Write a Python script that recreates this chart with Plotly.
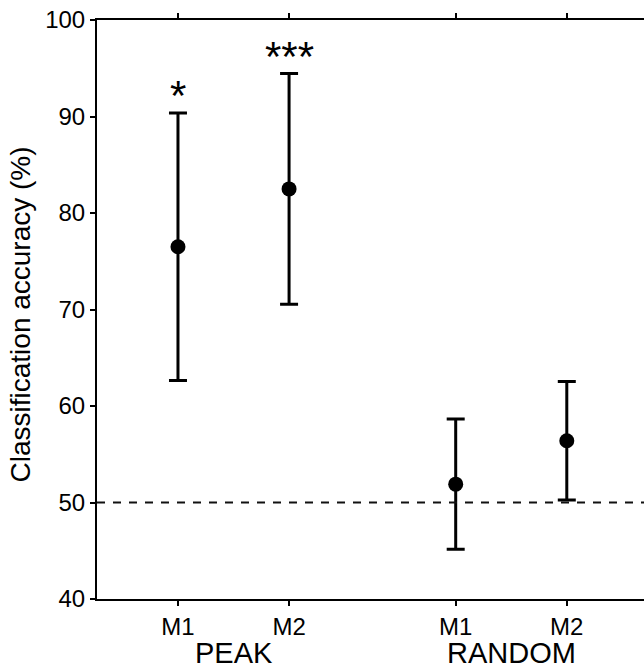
import plotly.graph_objects as go

# ---- data ----
groups = ["PEAK", "PEAK", "RANDOM", "RANDOM"]
methods = ["M1", "M2", "M1", "M2"]
accuracy = [76.5, 82.5, 51.9, 56.4]
error = [13.85, 11.95, 6.75, 6.15]
significance = ["*", "***", "", ""]
chance_level = 50
y_ticks = [40, 50, 60, 70, 80, 90, 100]
group_names = ["PEAK", "RANDOM"]

# category placement on the x axis (two groups with a gap)
x_pos = [1, 2, 3.5, 4.5]

FONT = "Liberation Sans, Arial, Helvetica, sans-serif"

fig = go.Figure()
fig.add_trace(go.Scatter(
    x=x_pos, y=accuracy, mode="markers",
    marker=dict(color="black", size=15),
    error_y=dict(type="data", array=error, visible=True,
                 color="black", thickness=3, width=9),
    cliponaxis=False, showlegend=False, hoverinfo="skip",
))

# chance level
fig.add_shape(type="line", xref="paper", x0=0, x1=1, yref="y",
              y0=chance_level, y1=chance_level,
              line=dict(color="#111111", width=2, dash="8px,8px"))

# significance stars
for xp, acc, err, s in zip(x_pos, accuracy, error, significance):
    if s:
        fig.add_annotation(x=xp, y=acc + err, text=s, showarrow=False,
                           yanchor="bottom", yshift=-8,
                           font=dict(family=FONT, size=42, color="black"))

# group labels
for g in group_names:
    xs = [xp for xp, gg in zip(x_pos, groups) if gg == g]
    fig.add_annotation(x=sum(xs) / len(xs), xref="x", y=-0.094, yref="paper",
                       text=g, showarrow=False, yanchor="middle",
                       font=dict(family=FONT, size=29, color="black"))

# y axis title
fig.add_annotation(x=0, xref="paper", xshift=-77, y=0.5, yref="paper",
                   yshift=-5, text="Classification accuracy (%)",
                   textangle=-90, showarrow=False,
                   xanchor="center", yanchor="middle",
                   font=dict(family=FONT, size=28, color="black"))

fig.update_xaxes(range=[0.271, 5.195], tickmode="array", tickvals=x_pos,
                 ticktext=methods,
                 showline=True, linecolor="black", linewidth=2,
                 mirror="ticks", ticks="outside", ticklen=5, tickwidth=2,
                 tickcolor="black", showgrid=False, zeroline=False,
                 tickfont=dict(family=FONT, size=24, color="black"))
fig.update_yaxes(range=[40, 100], tickmode="array", tickvals=y_ticks,
                 showline=True, linecolor="black", linewidth=2,
                 ticks="outside", ticklen=5, tickwidth=2, tickcolor="black",
                 showgrid=False, zeroline=False,
                 tickfont=dict(family=FONT, size=24, color="black"))

fig.update_layout(width=644, height=671,
                  margin=dict(l=97, r=0, t=20, b=72),
                  plot_bgcolor="white", paper_bgcolor="white",
                  font=dict(family=FONT, color="black"),
                  hovermode=False)

fig.write_html("out.html",
               config={"displayModeBar": False, "staticPlot": True},
               post_script="document.body.style.margin='0';"
                           "document.body.style.overflow='hidden';"
                           "document.documentElement.style.overflow='hidden';")
